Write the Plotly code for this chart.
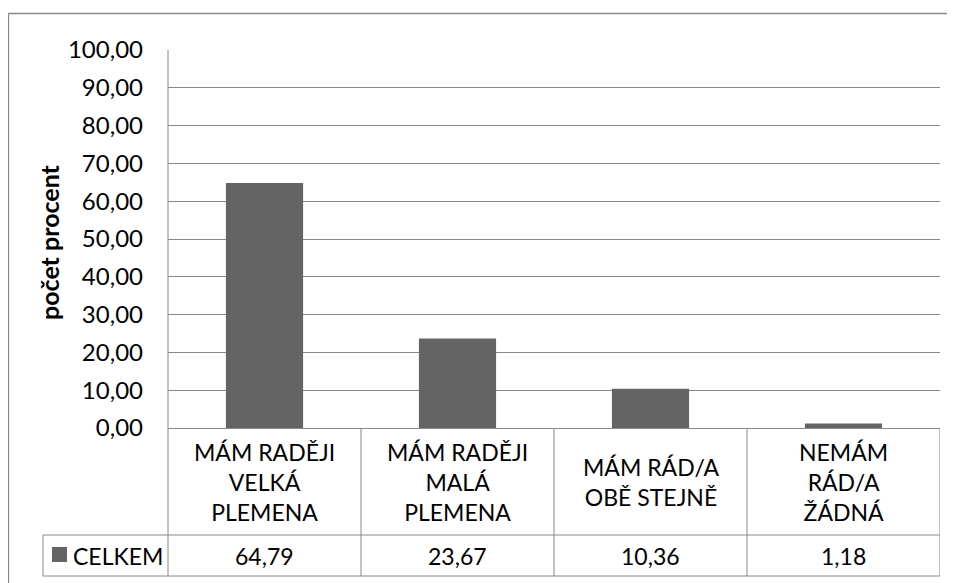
import plotly.graph_objects as go

categories = ["MÁM RADĚJI<br>VELKÁ<br>PLEMENA", "MÁM RADĚJI<br>MALÁ<br>PLEMENA",
              "MÁM RÁD/A<br>OBĚ STEJNĚ", "NEMÁM<br>RÁD/A<br>ŽÁDNÁ"]
values = [64.79, 23.67, 10.36, 1.18]
series_name = "CELKEM"
y_title = "počet procent"

OFF = 8  # page body margin
W, H = 955 - OFF, 583 - OFF
L, T = 168 - OFF, 50 - OFF
R = W - (940 - OFF)
B = H - (428 - OFF)
pw, ph = W - L - R, H - T - B

def px(x):  # screen x -> paper
    return (x - OFF - L) / pw

def py(y):  # screen y -> paper
    return (H - B - (y - OFF)) / ph

FONT = "Lato"
GRID = "#888888"
BAR = "#646464"
FS = 23

xs = list(range(len(categories)))

fig = go.Figure()
fig.add_trace(go.Bar(x=xs, y=values, width=0.4, marker=dict(color=BAR, line=dict(width=0)),
                     name=series_name, showlegend=False, hoverinfo="y"))

shapes = []
shapes.append(dict(type="line", xref="paper", yref="paper", x0=px(8.5), x1=px(960), y0=py(13.5), y1=py(13.5),
                   line=dict(color="#888888", width=1.3), layer="below"))
shapes.append(dict(type="line", xref="paper", yref="paper", x0=px(8.5), x1=px(8.5), y0=py(13.5), y1=py(600),
                   line=dict(color="#888888", width=1.3), layer="below"))
row1 = py(535)
row2 = py(576)
shapes.append(dict(type="line", xref="paper", yref="paper", x0=px(43), x1=1, y0=row1, y1=row1,
                   line=dict(color=GRID, width=1)))
shapes.append(dict(type="line", xref="paper", yref="paper", x0=px(43), x1=1, y0=row2, y1=row2,
                   line=dict(color=GRID, width=1)))
shapes.append(dict(type="line", xref="paper", yref="paper", x0=px(43), x1=px(43), y0=row1, y1=row2,
                   line=dict(color=GRID, width=1)))
shapes.append(dict(type="line", xref="paper", yref="paper", x0=0, x1=0, y0=row2, y1=1,
                   line=dict(color=GRID, width=1)))
for i in range(len(categories)):
    xb = i + 0.5
    shapes.append(dict(type="line", xref="x", yref="paper", x0=xb, x1=xb, y0=row2, y1=0,
                       line=dict(color=GRID, width=1)))
shapes.append(dict(type="rect", xref="paper", yref="paper", x0=px(52), x1=px(67), y0=py(562), y1=py(547),
                   fillcolor=BAR, line=dict(width=0)))

annotations = []
for i, (c, v) in enumerate(zip(categories, values)):
    annotations.append(dict(x=i, xref="x", y=(0 + row1) / 2, yref="paper", text=c, showarrow=False,
                            font=dict(family=FONT, size=FS, color="#000000"), align="center",
                            xanchor="center", yanchor="middle"))
    annotations.append(dict(x=i, xref="x", y=(row1 + row2) / 2, yref="paper",
                            text=f"{v:.2f}".replace(".", ","), showarrow=False,
                            font=dict(family=FONT, size=FS, color="#000000"),
                            xanchor="center", yanchor="middle"))
annotations.append(dict(x=px(71), xref="paper", y=(row1 + row2) / 2, yref="paper", text=series_name,
                        showarrow=False, font=dict(family=FONT, size=FS, color="#000000"),
                        xanchor="left", yanchor="middle"))
annotations.append(dict(x=px(49), xref="paper", y=py(242), yref="paper", text=f"<b>{y_title}</b>",
                        showarrow=False, textangle=-90, font=dict(family=FONT, size=25, color="#000000"),
                        xanchor="center", yanchor="middle"))

fig.update_layout(
    width=W, height=H,
    margin=dict(l=L, r=R, t=T, b=B),
    paper_bgcolor="white", plot_bgcolor="white",
    separators=", ",
    font=dict(family=FONT, size=FS, color="#000000"),
    shapes=shapes, annotations=annotations,
    xaxis=dict(range=[-0.5, len(categories) - 0.5], showticklabels=False, showgrid=False, zeroline=False,
               showline=True, linecolor=GRID, linewidth=1, ticks="", fixedrange=True),
    yaxis=dict(range=[0, 100], dtick=10, tickformat=".2f", showgrid=True, gridcolor=GRID, gridwidth=1,
               zeroline=False, showline=False, ticks="", ticklabelstandoff=24,
               tickfont=dict(family=FONT, size=24, color="#000000"), fixedrange=True),
    bargap=0.6,
)

fig.write_html("out.html", config={"displayModeBar": False},
               post_script="document.documentElement.style.overflow='hidden';document.body.style.overflow='hidden';")
